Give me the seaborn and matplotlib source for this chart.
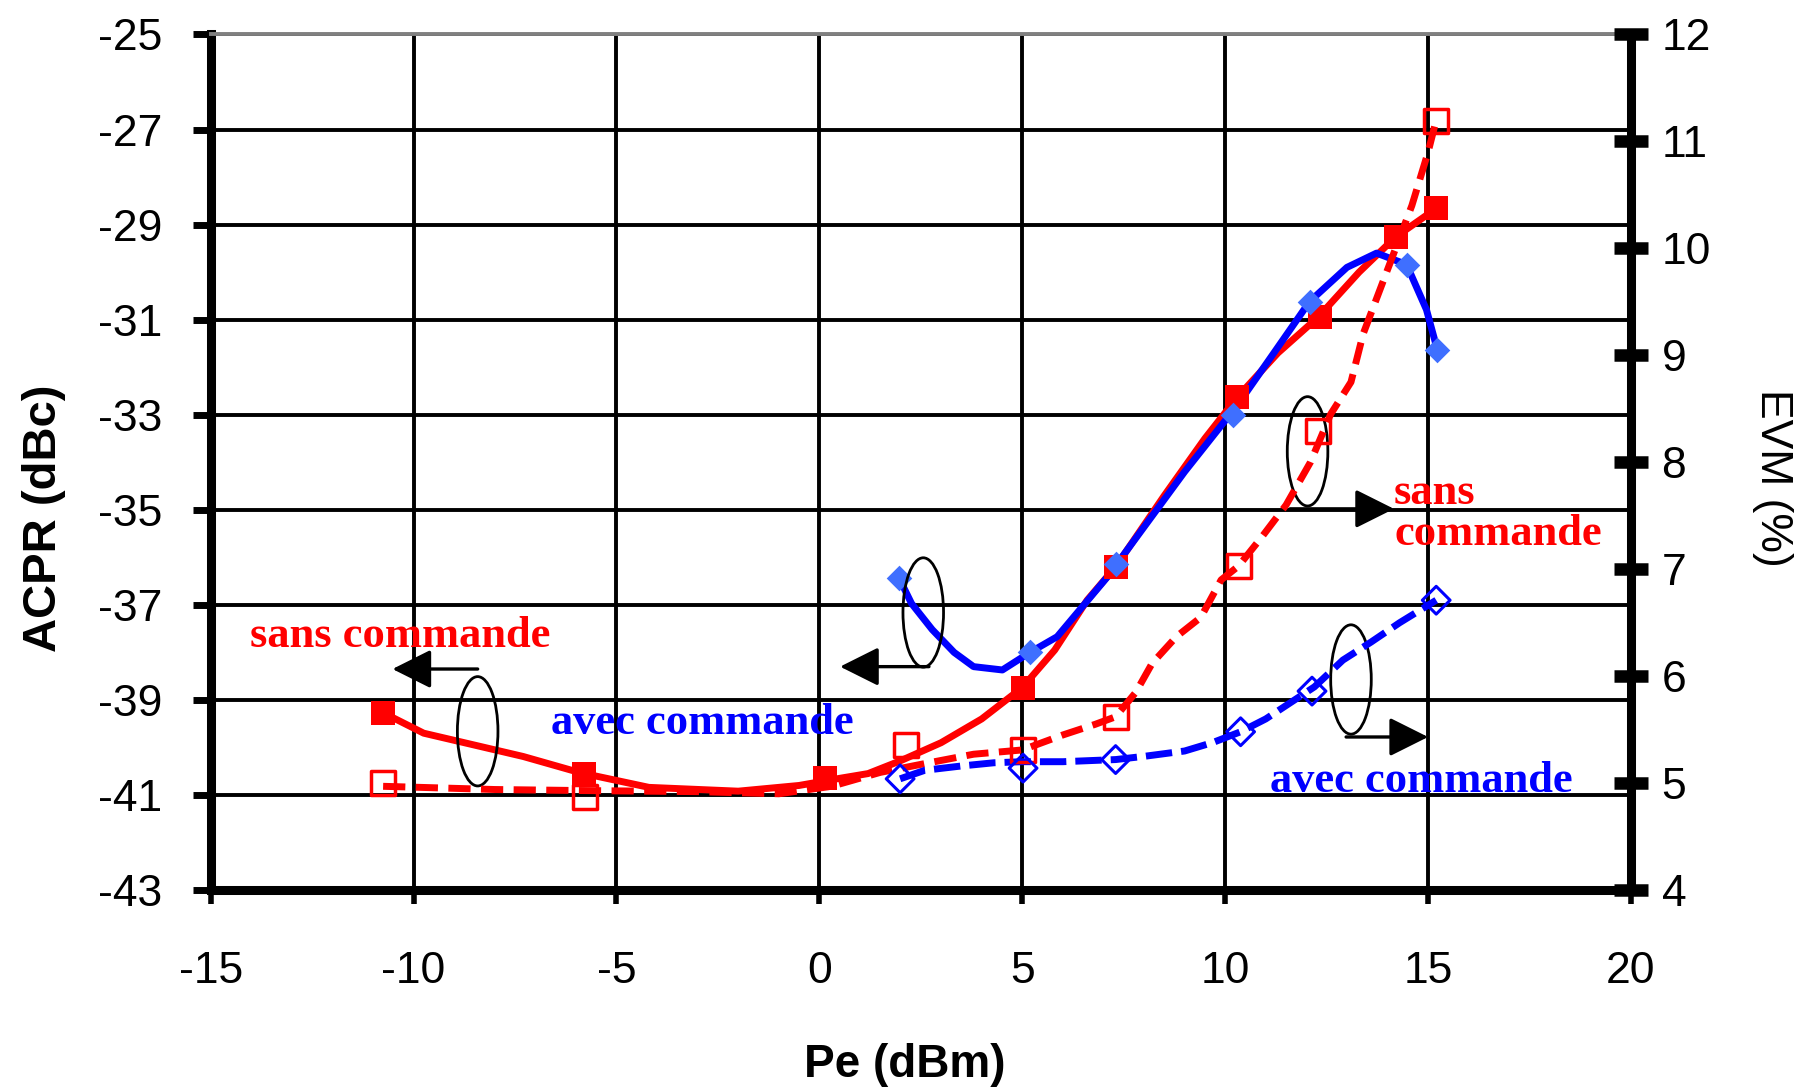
import matplotlib
matplotlib.use('Agg')
import matplotlib.pyplot as plt
import seaborn as sns
import pandas as pd
from matplotlib.patches import Ellipse

sns.set_style('white')
plt.rcParams['font.family'] = ['Liberation Sans', 'DejaVu Sans']
plt.rcParams['axes.unicode_minus'] = False
plt.rcParams['text.color'] = 'black'
plt.rcParams['axes.labelcolor'] = 'black'
plt.rcParams['xtick.color'] = 'black'
plt.rcParams['ytick.color'] = 'black'

# ---------------- data ----------------
x_ticks = [-15, -10, -5, 0, 5, 10, 15, 20]
acpr_ticks = [-43, -41, -39, -37, -35, -33, -31, -29, -27, -25]
evm_ticks = [4, 5, 6, 7, 8, 9, 10, 11, 12]

# ACPR sans commande (left axis) - curve and markers
acpr_sans_curve_x = [-10.75, -9.75, -8.4, -7.3, -5.9, -4.2, -2.0, -0.5, 0.5, 1.2, 2.0, 3.0, 4.0, 5.0,
                     5.8, 6.6, 7.3, 8.5, 9.5, 10.3, 11.3, 12.3, 13.3, 14.2, 15.2]
acpr_sans_curve_y = [-39.27, -39.7, -39.97, -40.19, -40.53, -40.84, -40.92, -40.8, -40.65, -40.55,
                     -40.28, -39.9, -39.4, -38.74, -37.95, -36.9, -36.2, -34.7, -33.5, -32.63,
                     -31.7, -30.94, -30.0, -29.26, -28.66]
acpr_sans_pts_x = [-10.75, -5.8, 0.15, 5.02, 7.3, 10.3, 12.34, 14.21, 15.2]
acpr_sans_pts_y = [-39.27, -40.55, -40.65, -38.74, -36.2, -32.63, -30.94, -29.26, -28.66]

# ACPR avec commande (left axis)
acpr_avec_curve_x = [1.96, 2.27, 2.78, 3.32, 3.8, 4.51, 5.19, 5.86, 6.48, 7.1, 7.89, 9.0, 10.3,
                     11.2, 12.08, 13.0, 13.73, 14.47, 14.96, 15.23]
acpr_avec_curve_y = [-36.43, -36.97, -37.52, -38.0, -38.3, -38.37, -38.0, -37.67, -37.04, -36.41,
                     -35.49, -34.2, -32.8, -31.7, -30.62, -29.9, -29.6, -29.84, -30.79, -31.64]
acpr_avec_pts_x = [1.96, 5.19, 7.3, 10.2, 12.08, 14.47, 15.23]
acpr_avec_pts_y = [-36.43, -38.0, -36.15, -33.0, -30.62, -29.84, -31.64]

# EVM sans commande (right axis)
evm_sans_curve_x = [-10.75, -8.0, -5.8, -3.0, -1.0, 0.3, 1.5, 2.7, 3.8, 5.0, 6.0, 6.8, 7.3, 7.8,
                    8.2, 8.8, 9.4, 9.9, 10.33, 10.9, 11.5, 12.1, 12.6, 13.1, 13.4, 13.9, 14.6,
                    15.0, 15.2]
evm_sans_curve_y = [4.97, 4.94, 4.93, 4.92, 4.9, 4.97, 5.1, 5.19, 5.27, 5.31, 5.45, 5.55, 5.62,
                    5.85, 6.12, 6.37, 6.55, 6.9, 7.03, 7.3, 7.6, 8.0, 8.45, 8.75, 9.2, 9.7, 10.4,
                    10.9, 11.2]
evm_sans_pts_x = [-10.75, -5.78, 2.13, 5.02, 7.3, 10.33, 12.28, 15.2]
evm_sans_pts_y = [5.0, 4.87, 5.36, 5.31, 5.62, 7.03, 8.29, 11.19]

# EVM avec commande (right axis)
evm_avec_curve_x = [1.99, 2.6, 3.5, 4.3, 5.0, 6.0, 7.3, 8.0, 9.0, 9.7, 10.38, 11.0, 11.6, 12.2,
                    12.9, 13.6, 14.3, 15.2]
evm_avec_curve_y = [5.04, 5.12, 5.16, 5.19, 5.2, 5.2, 5.22, 5.25, 5.3, 5.38, 5.48, 5.6, 5.75,
                    5.9, 6.15, 6.32, 6.5, 6.71]
evm_avec_pts_x = [1.99, 5.02, 7.3, 10.38, 12.14, 15.2]
evm_avec_pts_y = [5.04, 5.14, 5.22, 5.48, 5.86, 6.71]

RED = '#ff0000'
BLUE = '#0000ff'
LBLUE = '#3f6fff'

# ---------------- figure ----------------
fig = plt.figure(figsize=(18.05, 10.91), dpi=100)
ax = fig.add_axes([0.1167, 0.1842, 0.7869, 0.7842])
ax2 = ax.twinx()

ax.set_xlim(-15, 20)
ax.set_ylim(-43, -25)
ax2.set_ylim(4, 12)
ax.set_xticks(x_ticks)
ax.set_xticklabels([str(v) for v in x_ticks])
ax.set_yticks(acpr_ticks)
ax.set_yticklabels([str(v) for v in acpr_ticks])
ax2.set_yticks(evm_ticks)
ax2.set_yticklabels([str(v) for v in evm_ticks])

ax.set_axisbelow(True)
ax.grid(True, color='black', linewidth=2.8)

# ACPR curves
sns.lineplot(x=acpr_sans_curve_x, y=acpr_sans_curve_y, ax=ax, color=RED, linewidth=5,
             sort=False, zorder=3)
sns.lineplot(x=acpr_avec_curve_x, y=acpr_avec_curve_y, ax=ax, color=BLUE, linewidth=5,
             sort=False, zorder=4)
sns.scatterplot(x=acpr_sans_pts_x, y=acpr_sans_pts_y, ax=ax, marker='s', s=300, color=RED,
                edgecolor=RED, linewidth=0, zorder=5)
sns.scatterplot(x=acpr_avec_pts_x, y=acpr_avec_pts_y, ax=ax, marker='D', s=170, color=LBLUE,
                edgecolor=LBLUE, linewidth=0, zorder=6)

# EVM curves (right axis)
sns.lineplot(x=evm_sans_curve_x, y=evm_sans_curve_y, ax=ax2, color=RED, linewidth=5,
             sort=False, dashes=False)
ax2.lines[-1].set_dashes([3.2, 1.5])
sns.lineplot(x=evm_avec_curve_x, y=evm_avec_curve_y, ax=ax2, color=BLUE, linewidth=5,
             sort=False, dashes=False)
ax2.lines[-1].set_dashes([3.8, 1.3])
sns.scatterplot(x=evm_sans_pts_x, y=evm_sans_pts_y, ax=ax2, marker='s', s=300,
                facecolor='none', edgecolor=RED, linewidth=2.5, zorder=5)
sns.scatterplot(x=evm_avec_pts_x, y=evm_avec_pts_y, ax=ax2, marker='D', s=200,
                facecolor='none', edgecolor=BLUE, linewidth=2.2, zorder=5)

# spines
for s in ['left', 'bottom']:
    ax.spines[s].set_linewidth(6.5)
    ax.spines[s].set_color('black')
ax.spines['right'].set_visible(False)
ax.spines['top'].set_color('#808080')
ax.spines['top'].set_linewidth(2.8)
for s in ['left', 'bottom', 'top']:
    ax2.spines[s].set_visible(False)
ax2.spines['right'].set_linewidth(6.5)
ax2.spines['right'].set_color('black')

ax.tick_params(axis='y', direction='out', length=13, width=5, pad=22, labelsize=32,
               colors='black', left=True)
ax.tick_params(axis='x', direction='out', length=10, width=4, pad=34, labelsize=32,
               colors='black', bottom=True)
ax2.tick_params(axis='y', direction='inout', length=24, width=9, pad=10, labelsize=32,
                colors='black', right=True)

# axis labels
fig.text(0.0244, 0.525, 'ACPR (dBc)', rotation=90, ha='center', va='center',
         fontsize=34, fontweight='bold', color='black')
fig.text(0.982, 0.562, 'EVM (%)', rotation=270, ha='center', va='center', fontsize=32,
         color='black')
fig.text(0.501, 0.024, 'Pe (dBm)', ha='center', va='center', fontsize=33, fontweight='bold',
         color='black')

# annotations
serif = ['Liberation Serif', 'DejaVu Serif']
ax.text(-10.32, -37.65, 'sans commande', color=RED, fontsize=32, fontweight='bold',
        family=serif, ha='center', va='center', zorder=7)
ax.text(-2.89, -39.49, 'avec commande', color=BLUE, fontsize=32, fontweight='bold',
        family=serif, ha='center', va='center', zorder=7)
ax.text(14.16, -35.08, 'sans\ncommande', color=RED, fontsize=32, fontweight='bold',
        family=serif, ha='left', va='center', linespacing=1.05, zorder=7)
ax.text(14.84, -40.70, 'avec commande', color=BLUE, fontsize=32, fontweight='bold',
        family=serif, ha='center', va='center', zorder=7)

ellipses = [(-8.42, -39.66), (2.56, -37.16), (13.1, -38.57), (12.03, -33.77)]
for cx, cy in ellipses:
    ax.add_patch(Ellipse((cx, cy), width=1.0, height=2.3, fill=False, edgecolor='black',
                         linewidth=2.0, zorder=8))

arrows = [((-8.42, -38.35), (-10.52, -38.35)),
          ((2.7, -38.3), (0.51, -38.3)),
          ((12.98, -39.78), (15.0, -39.78)),
          ((11.6, -34.98), (14.16, -34.98))]
for start, tip in arrows:
    ax.annotate('', xy=tip, xytext=start,
                arrowprops=dict(arrowstyle='-|>,head_length=0.6,head_width=0.3',
                                mutation_scale=40, lw=2.4, color='black',
                                shrinkA=0, shrinkB=0), zorder=8)

fig.savefig('out.png', dpi=100)
